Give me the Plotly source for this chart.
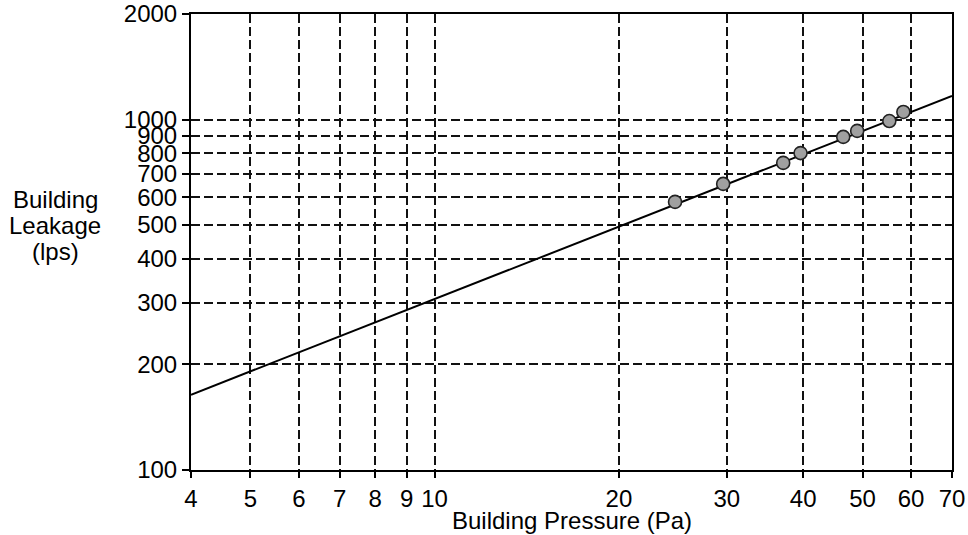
import math
import plotly.graph_objects as go

# Measured test points
pressure = [24.7, 29.6, 37.1, 39.6, 46.5, 49.0, 55.3, 58.3]   # Pa
leakage = [582, 655, 752, 802, 892, 928, 990, 1051]           # lps

# Fitted leakage line (end points)
fit_pressure = [4, 70]
fit_leakage = [164, 1168]

x_ticks = [4, 5, 6, 7, 8, 9, 10, 20, 30, 40, 50, 60, 70]
y_ticks = [100, 200, 300, 400, 500, 600, 700, 800, 900, 1000, 2000]
x_title = "Building Pressure (Pa)"
y_title_lines = ["Building", "Leakage", "(lps)"]

FONT = "Liberation Sans, Arial, sans-serif"
FS = 24

# layout geometry (pixels)
W, H = 968, 535
ML, MR, MT, MB = 191, 16, 14, 65
PH = H - MT - MB

fig = go.Figure()
fig.add_trace(go.Scatter(
    x=fit_pressure, y=fit_leakage, mode="lines",
    line=dict(color="black", width=2), showlegend=False, hoverinfo="skip"))
fig.add_trace(go.Scatter(
    x=pressure, y=leakage, mode="markers",
    marker=dict(size=13, color="#a0a0a0", line=dict(color="#222222", width=1.6)),
    showlegend=False))

axis_common = dict(
    type="log", automargin=False,
    showline=True, linecolor="black", linewidth=2, mirror=True,
    ticks="outside", tickwidth=1.5, tickcolor="black",
    showgrid=True, gridcolor="#111111", gridwidth=1.5, griddash="9px,4px",
    zeroline=False,
    tickfont=dict(family=FONT, size=FS, color="black"),
)

fig.update_xaxes(**axis_common, ticklen=6,
                 range=[math.log10(4), math.log10(70)],
                 tickvals=x_ticks, ticktext=[str(v) for v in x_ticks])
fig.update_yaxes(**axis_common, ticklen=7,
                 range=[math.log10(100), math.log10(2000)],
                 tickvals=y_ticks, ticktext=[str(v) for v in y_ticks])

fig.add_annotation(text=x_title, xref="paper", yref="paper", x=0.5, y=0,
                   xanchor="center", yanchor="middle", yshift=-50, showarrow=False,
                   font=dict(family=FONT, size=FS, color="black"))

y_centres = [199, 225, 252]
for line_text, py in zip(y_title_lines, y_centres):
    fig.add_annotation(text=line_text, xref="paper", yref="paper",
                       x=0, y=(H - MB - py) / PH,
                       xanchor="center", yanchor="middle", xshift=55 - ML,
                       showarrow=False,
                       font=dict(family=FONT, size=FS, color="black"))

fig.update_layout(
    width=W, height=H,
    margin=dict(l=ML, r=MR, t=MT, b=MB, autoexpand=False),
    paper_bgcolor="white", plot_bgcolor="white",
    font=dict(family=FONT, color="black"),
)

fig.write_html("out.html",
               config={"displayModeBar": False},
               post_script="document.body.style.margin='0';document.body.style.overflow='hidden';")
